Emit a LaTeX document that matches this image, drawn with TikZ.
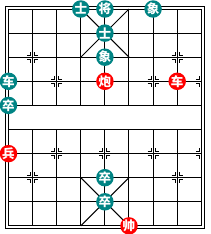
\documentclass[tikz,border=0pt]{standalone}
\usepackage{fontspec}
\newfontfamily\cjk{Noto Sans CJK SC}
\usepackage{tikz}
\usetikzlibrary{positioning}
\definecolor{pcteal}{RGB}{0,132,132}
\definecolor{pcred}{RGB}{255,0,0}
\tikzset{
  line/.style={draw=black, line width=1pt},
  piece/.style={circle, minimum size=17.5pt, inner sep=0pt, text=white, font=\cjk\bfseries\fontsize{12.5}{12.5}\selectfont},
  bpiece/.style={piece, fill=pcteal},
  rpiece/.style={piece, fill=pcred}
}
\newcommand{\posmark}[3]{%
  \foreach \sx in {#3} \foreach \sy in {-1,1}
    \draw [line] ({#1+\sx*0.23},{#2+\sy*0.083}) -- ({#1+\sx*0.083},{#2+\sy*0.083}) -- ({#1+\sx*0.083},{#2+\sy*0.23});
}
\begin{document}
\begin{tikzpicture}[x=24.1pt, y=-24.1pt]
  \useasboundingbox (-8.5pt,9pt) rectangle (201.5pt,-225pt);

  % frame and board
  \draw [line] ([xshift=-3pt,yshift=3pt]0,0) rectangle ([xshift=3pt,yshift=-3pt]8,9);
  \foreach \r in {0,...,9}
    \draw [line] (0,\r) -- (8,\r);
  \draw [line] (0,0) -- (0,9);
  \draw [line] (8,0) -- (8,9);
  \foreach \c in {1,...,7} {
    \draw [line] (\c,0) -- (\c,4);
    \draw [line] (\c,5) -- (\c,9);
  }
  \draw [line] (3,0) -- (5,2) (5,0) -- (3,2);
  \draw [line] (3,7) -- (5,9) (5,7) -- (3,9);

  % position marks
  \foreach \c/\r in {1/2,7/2,2/3,4/3,6/3,2/6,4/6,6/6,1/7,7/7}
    \posmark{\c}{\r}{-1,1};
  \foreach \r in {3,6} {
    \posmark{0}{\r}{1};
    \posmark{8}{\r}{-1};
  }

  % pieces
  \node [bpiece] (bs1) at (3,0) {士};
  \node [bpiece] (bk) at (4,0) {将};
  \node [bpiece] (be1) at (6,0) {象};
  \node [bpiece] (bs2) at (4,1) {士};
  \node [bpiece] (be2) at (4,2) {象};
  \node [bpiece] (br) at (0,3) {车};
  \node [rpiece] (rc) at (4,3) {炮};
  \node [rpiece] (rr) at (7,3) {车};
  \node [bpiece] (bp1) at (0,4) {卒};
  \node [rpiece] (rp) at (0,6) {兵};
  \node [bpiece] (bp2) at (4,7) {卒};
  \node [bpiece] (bp3) at (4,8) {卒};
  \node [rpiece] (rk) at (5,9) {帅};
\end{tikzpicture}
\end{document}
